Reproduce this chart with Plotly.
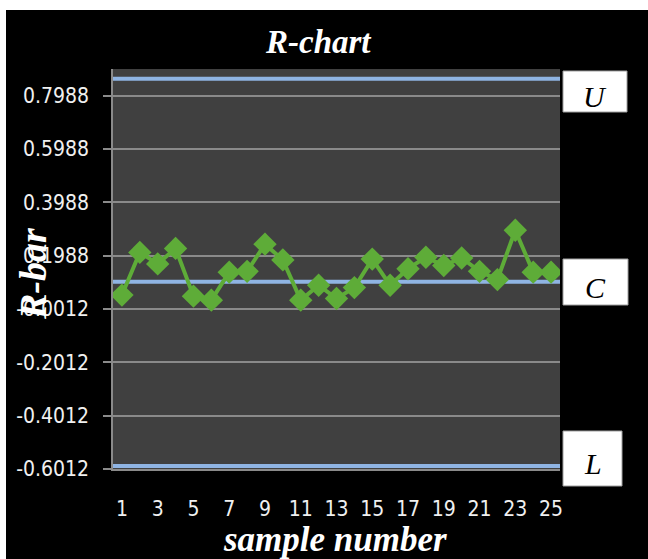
import plotly.graph_objects as go

# ---- data ----
sample_number = list(range(1, 26))
r_bar = [0.051, 0.211, 0.168, 0.226, 0.047, 0.032, 0.137, 0.140, 0.242, 0.183,
         0.032, 0.088, 0.038, 0.079, 0.186, 0.088, 0.150, 0.193, 0.162, 0.190,
         0.140, 0.109, 0.294, 0.137, 0.137]
ucl_value = 0.862
cl_value = 0.101
lcl_value = -0.590
y_tick_values = [-0.6012, -0.4012, -0.2012, -0.0012, 0.1988, 0.3988, 0.5988, 0.7988]
y_tick_labels = ["-0.6012", "-0.4012", "-0.2012", "-0.0012", "0.1988", "0.3988", "0.5988", "0.7988"]
x_tick_values = list(range(1, 26, 2))
limit_labels = ["U", "C", "L"]

# ---- layout geometry (pixels) ----
W, H = 648, 559
ML, MR, MT, MB = 113, 88, 69, 90
PW, PH = W - ML - MR, H - MT - MB


def px(x):
    return (x - ML) / PW


def py(y):
    return (H - MB - y) / PH


fig = go.Figure()

limit_color = "#8fb4e3"
x_span = [0.5, 25.5]
for val in (ucl_value, cl_value, lcl_value):
    fig.add_trace(go.Scatter(x=x_span, y=[val, val], mode="lines",
                             line=dict(color=limit_color, width=4),
                             hoverinfo="skip", showlegend=False))

fig.add_trace(go.Scatter(x=sample_number, y=r_bar, mode="lines+markers",
                         line=dict(color="#5eac38", width=4),
                         marker=dict(symbol="diamond", size=18, color="#5eac38"),
                         showlegend=False))

serif = "Liberation Serif, Times New Roman, serif"
narrow = "DejaVu Sans Condensed, Liberation Sans Narrow, Arial Narrow, sans-serif"

shapes = [
    # white strips around the black chart background
    dict(type="rect", xref="paper", yref="paper", x0=px(0), x1=px(6), y0=py(H), y1=py(0),
         fillcolor="white", line=dict(width=0), layer="above"),
    dict(type="rect", xref="paper", yref="paper", x0=px(0), x1=px(W), y0=py(10), y1=py(0),
         fillcolor="white", line=dict(width=0), layer="above"),
]
boxes = [(563, 627, 71, 112), (563, 628, 259, 305), (563, 622, 431, 486)]
annotations = []
for (x0, x1, y0, y1), lab in zip(boxes, limit_labels):
    shapes.append(dict(type="rect", xref="paper", yref="paper",
                       x0=px(x0), x1=px(x1), y0=py(y1), y1=py(y0),
                       fillcolor="white", line=dict(color="#a0a0a0", width=1)))
    annotations.append(dict(xref="paper", yref="paper", x=px((x0 + x1) / 2),
                            y=py((y0 + y1) / 2 + 5), text=f"<i>{lab}</i>",
                            showarrow=False, xanchor="center", yanchor="middle",
                            font=dict(family=serif, size=30, color="black")))

annotations.append(dict(xref="paper", yref="paper", x=px(335), y=py(539),
                        text="<b><i>sample number</i></b>", showarrow=False,
                        xanchor="center", yanchor="middle",
                        font=dict(family=serif, size=35, color="white")))
annotations.append(dict(xref="paper", yref="paper", x=px(33), y=py(274),
                        text="<b><i>R-bar</i></b>", showarrow=False, textangle=-90,
                        xanchor="center", yanchor="middle",
                        font=dict(family=serif, size=38, color="white")))
annotations.append(dict(xref="paper", yref="paper", x=px(318), y=py(42),
                        text="<b><i>R-chart</i></b>", showarrow=False,
                        xanchor="center", yanchor="middle",
                        font=dict(family=serif, size=33, color="white")))

fig.update_layout(
    width=W, height=H,
    margin=dict(l=ML, r=MR, t=MT, b=MB, pad=0),
    paper_bgcolor="black",
    plot_bgcolor="#404040",
    shapes=shapes,
    annotations=annotations,
    xaxis=dict(range=[0.5, 25.5], tickmode="array", tickvals=x_tick_values,
               ticktext=[str(v) for v in x_tick_values],
               showgrid=False, zeroline=False, showline=True, linecolor="#8a8a8a",
               linewidth=1.5, ticks="", ticklabelstandoff=20,
               tickfont=dict(family=narrow, size=21, color="#f0f0f0")),
    yaxis=dict(range=[-0.6012, 0.8988], tickmode="array", tickvals=y_tick_values,
               ticktext=y_tick_labels, showgrid=True, gridcolor="#8a8a8a", gridwidth=1.5,
               zeroline=False, showline=True, linecolor="#8a8a8a", linewidth=1.5,
               ticks="outside", ticklen=8, tickcolor="#8a8a8a", tickwidth=1.5,
               ticklabelstandoff=10,
               tickfont=dict(family=narrow, size=21, color="#f0f0f0")),
)

fig.write_html("out.html")
